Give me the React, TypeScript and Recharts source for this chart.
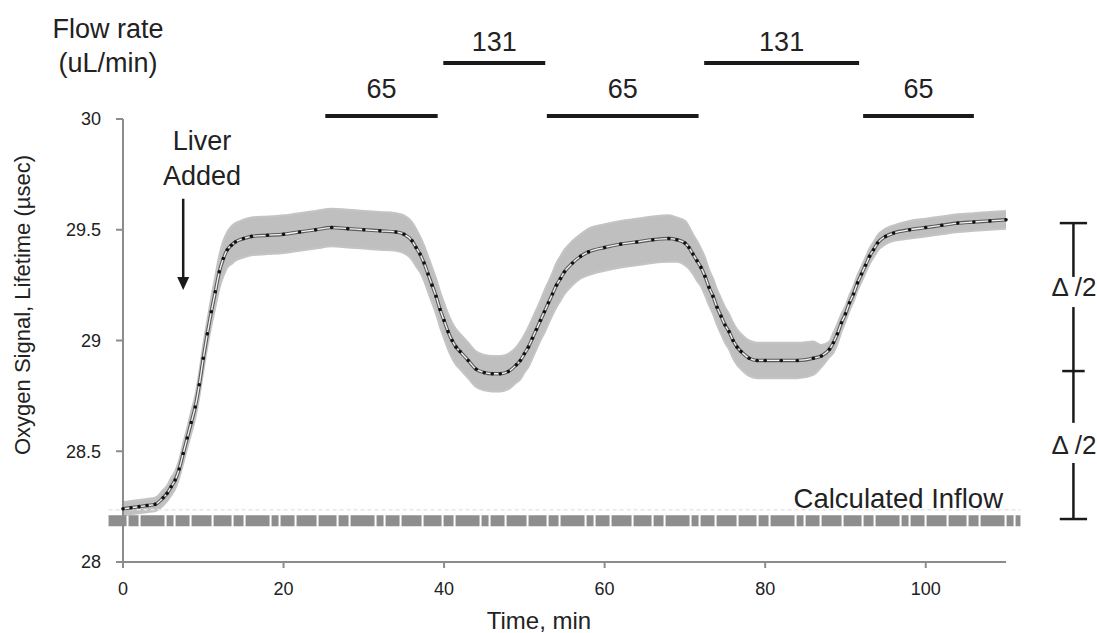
import {
  ComposedChart,
  Area,
  Line,
  XAxis,
  YAxis,
  ReferenceLine,
  ReferenceDot,
} from 'recharts'

// Time (min), mean oxygen signal (µsec) and half-width of the grey spread band
const time = [
  0, 1, 2, 3, 4, 5, 5.5, 6, 6.5, 7, 7.5, 8, 8.5, 9, 9.5, 10, 10.5, 11, 11.5, 12,
  12.5, 13, 13.5, 14, 15, 16, 18, 20, 22, 24, 26, 28, 30, 32, 34, 35, 36, 36.5,
  37, 37.5, 38, 38.5, 39, 39.5, 40, 40.5, 41, 41.5, 42, 43, 44, 45, 46, 47, 48,
  49, 49.5, 50, 50.5, 51, 51.5, 52, 52.5, 53, 53.5, 54, 54.5, 55, 56, 57, 58, 60,
  62, 64, 66, 68, 69, 70, 70.5, 71, 71.5, 72, 72.5, 73, 73.5, 74, 74.5, 75, 75.5,
  76, 76.5, 77, 78, 79, 80, 82, 84, 86, 87, 88, 88.5, 89, 89.5, 90, 90.5, 91,
  91.5, 92, 92.5, 93, 93.5, 94, 95, 96, 98, 100, 102, 104, 106, 108, 110,
]
const signal = [
  28.24, 28.245, 28.25, 28.255, 28.26, 28.29, 28.31, 28.34, 28.37, 28.42, 28.49,
  28.56, 28.63, 28.7, 28.8, 28.92, 29.03, 29.13, 29.22, 29.31, 29.37, 29.41,
  29.43, 29.445, 29.46, 29.47, 29.475, 29.48, 29.49, 29.5, 29.51, 29.505, 29.5,
  29.495, 29.49, 29.48, 29.45, 29.42, 29.39, 29.35, 29.3, 29.25, 29.2, 29.14,
  29.09, 29.04, 29.0, 28.97, 28.95, 28.91, 28.87, 28.855, 28.85, 28.85, 28.86,
  28.89, 28.91, 28.94, 28.97, 29.01, 29.05, 29.09, 29.13, 29.17, 29.21, 29.25,
  29.28, 29.31, 29.35, 29.38, 29.4, 29.42, 29.435, 29.445, 29.455, 29.46, 29.455,
  29.44, 29.42, 29.39, 29.36, 29.33, 29.29, 29.24, 29.2, 29.15, 29.11, 29.07,
  29.04, 29.0, 28.97, 28.95, 28.92, 28.91, 28.91, 28.91, 28.91, 28.92, 28.93,
  28.96, 28.99, 29.03, 29.08, 29.12, 29.17, 29.21, 29.26, 29.3, 29.34, 29.38,
  29.41, 29.44, 29.47, 29.485, 29.5, 29.51, 29.52, 29.53, 29.535, 29.54, 29.545,
]
const spread = [
  0.03, 0.03, 0.03, 0.03, 0.03, 0.035, 0.035, 0.04, 0.04, 0.04, 0.045, 0.045,
  0.05, 0.05, 0.055, 0.06, 0.06, 0.065, 0.07, 0.075, 0.08, 0.08, 0.085, 0.085,
  0.085, 0.085, 0.085, 0.085, 0.085, 0.085, 0.085, 0.085, 0.085, 0.085, 0.085,
  0.085, 0.085, 0.085, 0.08, 0.08, 0.08, 0.08, 0.08, 0.08, 0.08, 0.08, 0.08,
  0.08, 0.08, 0.08, 0.08, 0.08, 0.08, 0.08, 0.08, 0.08, 0.085, 0.085, 0.09,
  0.09, 0.09, 0.09, 0.095, 0.095, 0.095, 0.1, 0.1, 0.1, 0.1, 0.1, 0.105, 0.105,
  0.105, 0.105, 0.105, 0.105, 0.1, 0.1, 0.095, 0.09, 0.09, 0.085, 0.085, 0.08,
  0.08, 0.08, 0.08, 0.08, 0.08, 0.08, 0.08, 0.08, 0.08, 0.08, 0.08, 0.08, 0.08,
  0.075, 0.05, 0.035, 0.045, 0.045, 0.04, 0.035, 0.035, 0.035, 0.035, 0.035,
  0.035, 0.035, 0.035, 0.035, 0.035, 0.035, 0.04, 0.04, 0.04, 0.04, 0.04, 0.04,
  0.04, 0.04,
]

// Calculated inflow level (constant)
const inflowLevel = 28.186
const inflowSpan = [-1.8, 111.8]

// Flow-rate schedule shown above the plot
const flowStart = [25.2, 39.9, 52.8, 72.4, 92.2]
const flowEnd = [39.2, 52.6, 71.7, 91.7, 106]
const flowRate = [65, 131, 65, 131, 65]

// Liver added marker
const liverTime = 7.5

// Δ/2 bracket: top plateau, midpoint, inflow
const deltaLevels = [29.53, 28.862, 28.194]
const deltaTime = 118.4

const xTicks = [0, 20, 40, 60, 80, 100]
const yTicks = [28, 28.5, 29, 29.5, 30]

const rows = time.map((t, i) => ({
  t,
  signal: signal[i],
  band: [signal[i] - spread[i], signal[i] + spread[i]],
}))

const ink = '#1a1a1a'
const axisGrey = '#8c8c8c'

export default function App() {
  const flowY = (rate: number) => (rate > 100 ? 30.253 : 30.014)
  return (
    <div
      style={{
        position: 'absolute',
        left: 0,
        top: 0,
        width: 1097,
        height: 633,
        background: '#fff',
        fontFamily: '"Liberation Sans", Arial, sans-serif',
      }}
    >
      <ComposedChart
        width={1097}
        height={633}
        data={rows}
        margin={{ top: 119, right: 91, bottom: 31, left: 63 }}
      >
        <XAxis
          dataKey="t"
          type="number"
          domain={[0, 110]}
          ticks={xTicks}
          axisLine={{ stroke: axisGrey, strokeWidth: 2 }}
          tickLine={{ stroke: axisGrey, strokeWidth: 2 }}
          tickSize={6}
          tickMargin={14}
          height={40}
          tick={{ fill: '#222', fontSize: 18 }}
        />
        <YAxis
          type="number"
          domain={[28, 30]}
          ticks={yTicks}
          width={60}
          axisLine={{ stroke: axisGrey, strokeWidth: 2 }}
          tickLine={{ stroke: axisGrey, strokeWidth: 2 }}
          tickSize={7}
          tickMargin={15}
          tick={{ fill: '#222', fontSize: 18 }}
        />

        <ReferenceLine
          segment={[
            { x: inflowSpan[0], y: inflowLevel + 0.05 },
            { x: inflowSpan[1], y: inflowLevel + 0.05 },
          ]}
          stroke="#e6e6e6"
          strokeWidth={1.5}
          strokeDasharray="4 3"
          ifOverflow="visible"
        />
        <ReferenceLine
          segment={[
            { x: inflowSpan[0], y: inflowLevel },
            { x: inflowSpan[1], y: inflowLevel },
          ]}
          stroke="#8e8e8e"
          strokeWidth={11}
          strokeDasharray="18 2 10 2 24 2 7 2 14 2 20 2"
          ifOverflow="visible"
        />

        <Area
          dataKey="band"
          type="monotone"
          fill="#bfbfbf"
          fillOpacity={1}
          stroke="#c4c4c4"
          strokeWidth={2}
          isAnimationActive={false}
        />
        <Line
          dataKey="signal"
          type="monotone"
          stroke="#5a5a5a"
          strokeWidth={3.5}
          dot={false}
          isAnimationActive={false}
        />
        <Line
          dataKey="signal"
          type="monotone"
          stroke="#f4f4f4"
          strokeWidth={1.3}
          dot={{ r: 1.8, fill: '#111', stroke: 'none' }}
          isAnimationActive={false}
        />

        {flowRate.map((rate, i) => (
          <ReferenceLine
            key={`flow-${i}`}
            segment={[
              { x: flowStart[i], y: flowY(rate) },
              { x: flowEnd[i], y: flowY(rate) },
            ]}
            stroke={ink}
            strokeWidth={4}
            ifOverflow="visible"
            label={{
              value: String(rate),
              position: 'top',
              offset: rate > 100 ? 12 : 18,
              fontSize: 27,
              fill: '#222',
            }}
          />
        ))}

        <ReferenceLine
          segment={[
            { x: liverTime, y: 29.64 },
            { x: liverTime, y: 29.27 },
          ]}
          stroke={ink}
          strokeWidth={2.5}
          ifOverflow="visible"
        />
        <ReferenceDot
          x={liverTime}
          y={29.228}
          r={6}
          ifOverflow="visible"
          shape={(p: any) => (
            <polygon
              points={`${p.cx - 6},${p.cy - 13} ${p.cx + 6},${p.cy - 13} ${p.cx},${p.cy}`}
              fill={ink}
            />
          )}
        />

        {/* Δ/2 bracket to the right of the plot */}
        <ReferenceLine
          segment={[
            { x: deltaTime, y: deltaLevels[0] },
            { x: deltaTime, y: 29.287 },
          ]}
          stroke={ink}
          strokeWidth={2.5}
          ifOverflow="visible"
        />
        <ReferenceLine
          segment={[
            { x: deltaTime, y: 29.151 },
            { x: deltaTime, y: 28.628 },
          ]}
          stroke={ink}
          strokeWidth={2.5}
          ifOverflow="visible"
        />
        <ReferenceLine
          segment={[
            { x: deltaTime, y: 28.447 },
            { x: deltaTime, y: deltaLevels[2] },
          ]}
          stroke={ink}
          strokeWidth={2.5}
          ifOverflow="visible"
        />
        {deltaLevels.map((lv, i) => (
          <ReferenceLine
            key={`cap-${i}`}
            segment={[
              { x: deltaTime - (i === 1 ? 1.4 : 1.7), y: lv },
              { x: deltaTime + (i === 1 ? 1.4 : 1.7), y: lv },
            ]}
            stroke={ink}
            strokeWidth={2.5}
            ifOverflow="visible"
          />
        ))}
      </ComposedChart>

      <svg
        width={1097}
        height={633}
        style={{ position: 'absolute', left: 0, top: 0, pointerEvents: 'none' }}
      >
        <g fill="#222" fontFamily='"Liberation Sans", Arial, sans-serif'>
          <text x={108} y={38} fontSize={27} textAnchor="middle">
            Flow rate
          </text>
          <text x={108} y={72} fontSize={27} textAnchor="middle">
            (uL/min)
          </text>
          <text x={202} y={150} fontSize={27} textAnchor="middle">
            Liver
          </text>
          <text x={202} y={185} fontSize={27} textAnchor="middle">
            Added
          </text>
          <text x={1003} y={508} fontSize={27.5} textAnchor="end">
            Calculated Inflow
          </text>
          <text x={1074} y={296} fontSize={26} textAnchor="middle">
            Δ /2
          </text>
          <text x={1074} y={454} fontSize={26} textAnchor="middle">
            Δ /2
          </text>
          <text x={539} y={629} fontSize={24} textAnchor="middle">
            Time, min
          </text>
          <text
            x={30}
            y={305}
            fontSize={22}
            textAnchor="middle"
            transform="rotate(-90 30 305)"
          >
            Oxygen Signal, Lifetime (µsec)
          </text>
        </g>
      </svg>
    </div>
  )
}
